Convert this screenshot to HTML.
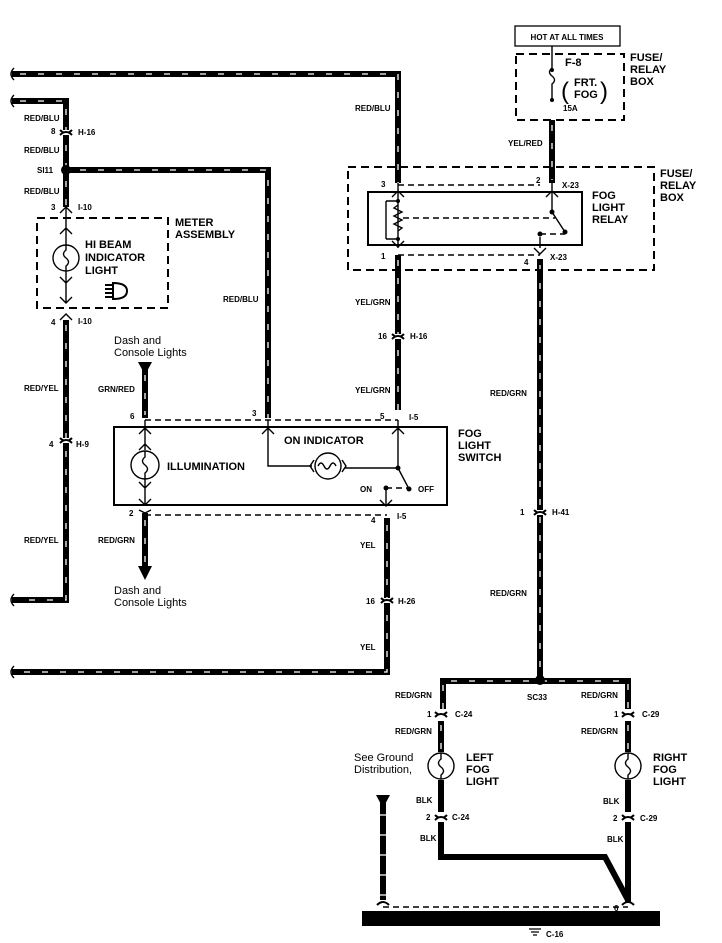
<!DOCTYPE html>
<html><head><meta charset="utf-8"><style>
html,body{margin:0;padding:0;background:#fff}
svg{display:block}
text{font-family:"Liberation Sans",sans-serif;font-weight:bold;fill:#000}
.s{font-size:8px}
.m{font-size:11px}
.n{font-family:"Liberation Sans",sans-serif;font-weight:normal;font-size:11px}
.w{fill:none;stroke:#000;stroke-width:6}
.wd{fill:none;stroke:#fff;stroke-width:1.3;stroke-dasharray:6 12}
.d{fill:none;stroke:#000;stroke-width:2;stroke-dasharray:8 5}
.t{fill:none;stroke:#000;stroke-width:1.4}
.dt{fill:none;stroke:#000;stroke-width:1.4;stroke-dasharray:6 4}
</style></head><body>
<svg width="722" height="943" viewBox="0 0 722 943" xmlns="http://www.w3.org/2000/svg">
<g>
<path class="w" d="M12 74 H398 V183"/>
<path class="w" d="M12 101 H66 V207"/>
<path class="w" d="M66 170 H268 V418"/>
<path class="w" d="M66 320 V600 H12"/>
<path class="w" d="M552 120 V183"/>
<path class="w" d="M398 255 V410"/>
<path class="w" d="M540 259 V677"/>
<path class="w" d="M145 368 V418"/>
<path class="w" d="M145 513 V568"/>
<path class="w" d="M387 518 V672 H12"/>
<path class="w" d="M443 709 V681 H628 V709"/>
<path class="w" d="M441 721 V752"/>
<path class="w" d="M628 721 V752"/>
<path class="w" d="M441 780 V812"/>
<path class="w" d="M628 780 V812"/>
<path class="w" d="M441 822 V857 H605 L628 900"/>
<path class="w" d="M628 822 V905"/>
<path class="w" d="M383 803 V900"/>
</g>
<g>
<path class="wd" d="M20 74 H398 V183"/>
<path class="wd" d="M20 101 H66 V207"/>
<path class="wd" d="M80 170 H268 V418"/>
<path class="wd" d="M66 325 V600 H20"/>
<path class="wd" d="M552 125 V180"/>
<path class="wd" d="M398 260 V410"/>
<path class="wd" d="M540 265 V670"/>
<path class="wd" d="M145 375 V415"/>
<path class="wd" d="M145 520 V565"/>
<path class="wd" d="M387 525 V672 H20"/>
<path class="wd" d="M443 709 V681 H628 V709"/>
<path class="wd" d="M441 725 V750"/>
<path class="wd" d="M628 725 V750"/>
</g>
<path d="M380 815 H386 M380 835 H386 M380 855 H386 M380 875 H386 M380 895 H386" stroke="#fff" stroke-width="1.2"/>
<polygon points="376,795 390,795 383,808" fill="#000"/>
<polygon points="138,362 152,362 145,375" fill="#000"/>
<polygon points="138,566 152,566 145,580" fill="#000"/>
<path d="M14 68 q-6 6 0 12 M14 95 q-6 6 0 12 M14 594 q-6 6 0 12 M14 666 q-6 6 0 12" class="t" stroke-width="2"/>
<circle cx="66" cy="170" r="5"/>
<circle cx="540" cy="680" r="5"/>
<g fill="#fff" stroke="#000" stroke-width="2">
<path d="M60 130 q6 6 12 0"/><path d="M60 135 q6 -6 12 0"/>
<path d="M60 438 q6 6 12 0" /><path d="M60 443 q6 -6 12 0"/>
<path d="M392 334 q6 6 12 0"/><path d="M392 339 q6 -6 12 0"/>
<path d="M534 510 q6 6 12 0"/><path d="M534 515 q6 -6 12 0"/>
<path d="M381 598 q6 6 12 0"/><path d="M381 603 q6 -6 12 0"/>
<path d="M435 712 q6 6 12 0"/><path d="M435 717 q6 -6 12 0"/>
<path d="M622 712 q6 6 12 0"/><path d="M622 717 q6 -6 12 0"/>
<path d="M435 815 q6 6 12 0"/><path d="M435 820 q6 -6 12 0"/>
<path d="M622 815 q6 6 12 0"/><path d="M622 820 q6 -6 12 0"/>
<path d="M377 905 q6 -6 12 0"/><path d="M622 905 q6 -6 12 0"/>
</g>
<rect x="37" y="218" width="131" height="90" class="d"/>
<path class="t" d="M66 207 V228 M60 213 l6 -6 6 6 M60 234 l6 -6 6 6 M66 228 V245 M66 271 V303 M60 277 l6 6 6 -6 M60 297 l6 6 6 -6 M60 320 l6 -6 6 6"/>
<circle cx="66" cy="258" r="13" class="t" stroke-width="2"/>
<path class="t" d="M66 245 V250 q-5 4 0 8 q5 4 0 8 V271"/>
<text x="85" y="248" class="m">HI BEAM</text>
<text x="85" y="261" class="m">INDICATOR</text>
<text x="85" y="274" class="m">LIGHT</text>
<path d="M105 285 h8 M105 289 h8 M105 293 h8 M105 297 h8 M113 283 q14 0 14 8 q0 8 -14 8 z" stroke="#000" stroke-width="2" fill="none"/>
<text x="175" y="226" class="m">METER</text>
<text x="175" y="238" class="m">ASSEMBLY</text>
<rect x="515" y="26" width="105" height="20" fill="none" stroke="#000" stroke-width="1.3"/>
<text x="567" y="40" class="s" text-anchor="middle">HOT AT ALL TIMES</text>
<rect x="516" y="54" width="108" height="66" class="d"/>
<path class="t" d="M552 46 V68 q-5 4 0 8 q5 4 0 8 V100" stroke-width="1.5"/>
<circle cx="552" cy="70" r="2"/><circle cx="552" cy="100" r="2"/>
<text x="565" y="66" class="m">F-8</text>
<text x="574" y="86" class="m">FRT.</text><text x="574" y="98" class="m">FOG</text>
<text x="561" y="99" style="font-size:24px;font-weight:normal">(</text>
<text x="600" y="99" style="font-size:24px;font-weight:normal">)</text>
<text x="563" y="111" class="s">15A</text>
<text x="630" y="61" class="m">FUSE/</text><text x="630" y="73" class="m">RELAY</text><text x="630" y="85" class="m">BOX</text>
<rect x="348" y="167" width="306" height="103" class="d"/>
<path class="dt" d="M398 185 H540 M398 255 H540"/>
<rect x="368" y="192" width="214" height="53" fill="none" stroke="#000" stroke-width="2"/>
<path class="t" d="M398 183 V248 M392 197 l6 -6 6 6 M392 241 l6 6 6 -6 M386 201 H398 M386 239 H398 M386 201 V239 M398 205 l-4 3 8 4 -8 4 8 4 -8 4 8 4 -4 3"/>
<circle cx="398" cy="201" r="2"/><circle cx="398" cy="239" r="2"/>
<path class="dt" d="M403 218 H555"/>
<path class="t" d="M552 183 V212 L565 232 M546 197 l6 -6 6 6 M540 248 V237 M534 248 l6 6 6 -6"/>
<circle cx="552" cy="212" r="2.5"/><circle cx="565" cy="232" r="2.5"/><circle cx="540" cy="234" r="2.5"/>
<path class="dt" d="M540 234 H565"/>
<text x="381" y="187" class="s">3</text><text x="536" y="183" class="s">2</text><text x="562" y="188" class="s">X-23</text>
<text x="381" y="259" class="s">1</text><text x="524" y="265" class="s">4</text><text x="550" y="260" class="s">X-23</text>
<text x="592" y="199" class="m">FOG</text><text x="592" y="211" class="m">LIGHT</text><text x="592" y="223" class="m">RELAY</text>
<text x="660" y="177" class="m">FUSE/</text><text x="660" y="189" class="m">RELAY</text><text x="660" y="201" class="m">BOX</text>
<path class="dt" d="M145 420 H398 M145 515 H387"/>
<rect x="114" y="427" width="333" height="78" fill="none" stroke="#000" stroke-width="2"/>
<path class="t" d="M145 420 V450 M139 434 l6 -6 6 6 M139 450 l6 -6 6 6 M145 478 V505 M139 482 l6 6 6 -6 M139 499 l6 6 6 -6 M145 513 l-6 -3 M145 513 l6 -3"/>
<circle cx="145" cy="465" r="14" class="t" stroke-width="2"/>
<path class="t" d="M145 451 V457 q-5 4 0 8 q5 4 0 8 V479"/>
<text x="167" y="470" class="m">ILLUMINATION</text>
<path class="t" d="M268 420 V466 H312 M262 434 l6 -6 6 6 M398 420 V468 H345 M392 434 l6 -6 6 6"/>
<circle cx="328" cy="466" r="13" class="t" stroke-width="2"/>
<path class="t" d="M318 466 q3 -6 6 0 q3 6 6 0 q3 -6 6 0"/>
<path class="t" d="M314 460 l-4 6 4 6 M342 460 l4 6 -4 6"/>
<circle cx="398" cy="468" r="2.5"/>
<path class="t" d="M398 468 L409 489"/>
<circle cx="409" cy="489" r="2.5"/><circle cx="386" cy="488" r="2.5"/>
<path class="dt" d="M386 488 H409"/>
<path class="t" d="M386 488 V505 M380 500 l6 6 6 -6"/>
<text x="284" y="444" class="m">ON INDICATOR</text>
<text x="360" y="492" class="s">ON</text><text x="418" y="492" class="s">OFF</text>
<text x="458" y="437" class="m">FOG</text><text x="458" y="449" class="m">LIGHT</text><text x="458" y="461" class="m">SWITCH</text>
<text x="130" y="419" class="s">6</text><text x="252" y="416" class="s">3</text><text x="380" y="419" class="s">5</text><text x="409" y="420" class="s">I-5</text>
<text x="129" y="516" class="s">2</text><text x="371" y="523" class="s">4</text><text x="397" y="519" class="s">I-5</text>
<circle cx="441" cy="766" r="13" class="t" stroke-width="2.2"/>
<path class="t" d="M441 753 V759 q-5 4 0 8 q5 4 0 8 V779"/>
<circle cx="628" cy="766" r="13" class="t" stroke-width="2.2"/>
<path class="t" d="M628 753 V759 q-5 4 0 8 q5 4 0 8 V779"/>
<text x="466" y="761" class="m">LEFT</text><text x="466" y="773" class="m">FOG</text><text x="466" y="785" class="m">LIGHT</text>
<text x="653" y="761" class="m">RIGHT</text><text x="653" y="773" class="m">FOG</text><text x="653" y="785" class="m">LIGHT</text>
<text x="354" y="761" class="n">See Ground</text><text x="354" y="773" class="n">Distribution,</text>
<path class="dt" d="M383 907 H628"/>
<rect x="362" y="911" width="298" height="15" fill="#000"/>
<path d="M529 929 h12 M531 932 h8 M533 935 h4" stroke="#000" stroke-width="1.3"/>
<text x="546" y="937" class="s">C-16</text>
<text x="614" y="911" class="s">6</text>
<text x="24" y="121" class="s">RED/BLU</text>
<text x="51" y="134" class="s">8</text><text x="78" y="135" class="s">H-16</text>
<text x="24" y="153" class="s">RED/BLU</text>
<text x="37" y="173" class="s">SI11</text>
<text x="24" y="194" class="s">RED/BLU</text>
<text x="51" y="210" class="s">3</text><text x="78" y="210" class="s">I-10</text>
<text x="51" y="325" class="s">4</text><text x="78" y="324" class="s">I-10</text>
<text x="24" y="391" class="s">RED/YEL</text>
<text x="49" y="447" class="s">4</text><text x="76" y="447" class="s">H-9</text>
<text x="24" y="543" class="s">RED/YEL</text>
<text x="223" y="302" class="s">RED/BLU</text>
<text x="355" y="111" class="s">RED/BLU</text>
<text x="508" y="146" class="s">YEL/RED</text>
<text x="355" y="305" class="s">YEL/GRN</text>
<text x="378" y="339" class="s">16</text><text x="410" y="339" class="s">H-16</text>
<text x="355" y="393" class="s">YEL/GRN</text>
<text x="490" y="396" class="s">RED/GRN</text>
<text x="520" y="515" class="s">1</text><text x="552" y="515" class="s">H-41</text>
<text x="490" y="596" class="s">RED/GRN</text>
<text x="114" y="344" class="n">Dash and</text><text x="114" y="356" class="n">Console Lights</text>
<text x="98" y="392" class="s">GRN/RED</text>
<text x="98" y="543" class="s">RED/GRN</text>
<text x="114" y="594" class="n">Dash and</text><text x="114" y="606" class="n">Console Lights</text>
<text x="360" y="548" class="s">YEL</text>
<text x="366" y="604" class="s">16</text><text x="398" y="604" class="s">H-26</text>
<text x="360" y="650" class="s">YEL</text>
<text x="395" y="698" class="s">RED/GRN</text>
<text x="527" y="700" class="s">SC33</text>
<text x="581" y="698" class="s">RED/GRN</text>
<text x="427" y="717" class="s">1</text><text x="455" y="717" class="s">C-24</text>
<text x="614" y="717" class="s">1</text><text x="642" y="717" class="s">C-29</text>
<text x="395" y="734" class="s">RED/GRN</text>
<text x="581" y="734" class="s">RED/GRN</text>
<text x="416" y="803" class="s">BLK</text><text x="603" y="804" class="s">BLK</text>
<text x="426" y="820" class="s">2</text><text x="452" y="820" class="s">C-24</text>
<text x="613" y="821" class="s">2</text><text x="640" y="821" class="s">C-29</text>
<text x="420" y="841" class="s">BLK</text><text x="607" y="842" class="s">BLK</text>
</svg>
</body></html>
